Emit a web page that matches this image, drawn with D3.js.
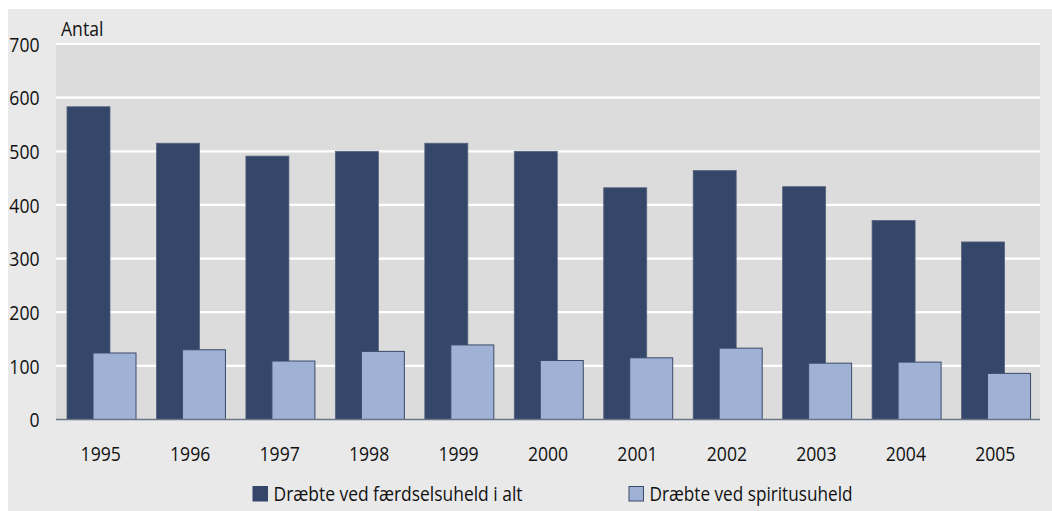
<!DOCTYPE html>
<html><head><meta charset="utf-8">
<script src="https://cdn.jsdelivr.net/npm/d3@7"></script>
<style>
html,body{margin:0;padding:0;background:#fff;}
text{font-family:"Open Sans","DejaVu Sans",sans-serif;fill:#111;}
</style></head>
<body>
<script>
const years = ["1995","1996","1997","1998","1999","2000","2001","2002","2003","2004","2005"];
const totalKilled = [583,515,491,500,515,500,432,464,434,371,331];
const drunkKilled = [124,130,109,127,139,110,115,133,105,107,86];
const seriesNames = ["Dræbte ved færdselsuheld i alt","Dræbte ved spiritusuheld"];
const yTicks = [0,100,200,300,400,500,600,700];
const yLabel = "Antal";

const W=1052,H=511, FS=20, SX="scale(0.88,1)";
const svg=d3.select("body").append("svg").attr("width",W).attr("height",H);
svg.append("rect").attr("x",8).attr("y",9).attr("width",W-8).attr("height",H-9).attr("fill","#e9e9e9");

const x=d3.scaleBand().domain(years).range([56,1040]).paddingInner(0).paddingOuter(0);
const y=d3.scaleLinear().domain([0,700]).range([419.5,44]);

svg.append("rect").attr("x",56).attr("y",y(700)).attr("width",1040-56).attr("height",y(0)-y(700)).attr("fill","#dcdcdc");

svg.append("g").selectAll("line").data(yTicks.filter(d=>d>0)).join("line")
  .attr("x1",56).attr("x2",1040).attr("y1",d=>y(d)).attr("y2",d=>y(d))
  .attr("stroke","#fff").attr("stroke-width",2.2);

const bw=43, off1=11, off2=37;
svg.append("g").selectAll("rect").data(years).join("rect")
  .attr("x",d=>x(d)+off1).attr("width",bw)
  .attr("y",(d,i)=>y(totalKilled[i])).attr("height",(d,i)=>y(0)-y(totalKilled[i]))
  .attr("fill","#34476a").attr("stroke","#56637d").attr("stroke-width",0.8);
svg.append("g").selectAll("rect").data(years).join("rect")
  .attr("x",d=>x(d)+off2).attr("width",bw)
  .attr("y",(d,i)=>y(drunkKilled[i])).attr("height",(d,i)=>y(0)-y(drunkKilled[i]))
  .attr("fill","#9fb1d4").attr("stroke","#3a4a6a").attr("stroke-width",1);

svg.append("line").attr("x1",56).attr("x2",1040).attr("y1",y(0)).attr("y2",y(0))
  .attr("stroke","#6a7488").attr("stroke-width",1.5);

const ya=svg.append("g").attr("transform","translate(39.5,0)")
  .call(d3.axisLeft(y).tickValues(yTicks).tickSize(0).tickPadding(0));
ya.select(".domain").remove();
ya.attr("font-family",null).attr("font-size",null);
ya.selectAll("text").attr("font-size",FS).attr("dy","0.36em").attr("fill","#111")
  .attr("x",0).attr("transform",SX);

const xa=svg.append("g").attr("transform","translate(0,454)")
  .call(d3.axisBottom(x).tickSize(0).tickPadding(0));
xa.select(".domain").remove();
xa.attr("font-family",null).attr("font-size",null);
xa.selectAll("text").attr("font-size",FS).attr("dy","0.36em").attr("fill","#111")
  .attr("transform",SX);

svg.append("text").attr("transform","translate(61,36) "+SX).attr("font-size",FS).text(yLabel);

const legX=[253,629], legLen=[249,203], legColors=["#34476a","#9fb1d4"], legStroke=["#34476a","#3a4a6a"];
const leg=svg.append("g").selectAll("g").data(seriesNames).join("g")
  .attr("transform",(d,i)=>`translate(${legX[i]},486.5)`);
leg.append("rect").attr("width",14.5).attr("height",14.5).attr("fill",(d,i)=>legColors[i]).attr("stroke",(d,i)=>legStroke[i]).attr("stroke-width",1);
leg.append("text").attr("x",20.5).attr("y",14.5).attr("font-size",FS)
  .attr("textLength",(d,i)=>legLen[i]).attr("lengthAdjust","spacingAndGlyphs").text(d=>d);
</script>
</body></html>
